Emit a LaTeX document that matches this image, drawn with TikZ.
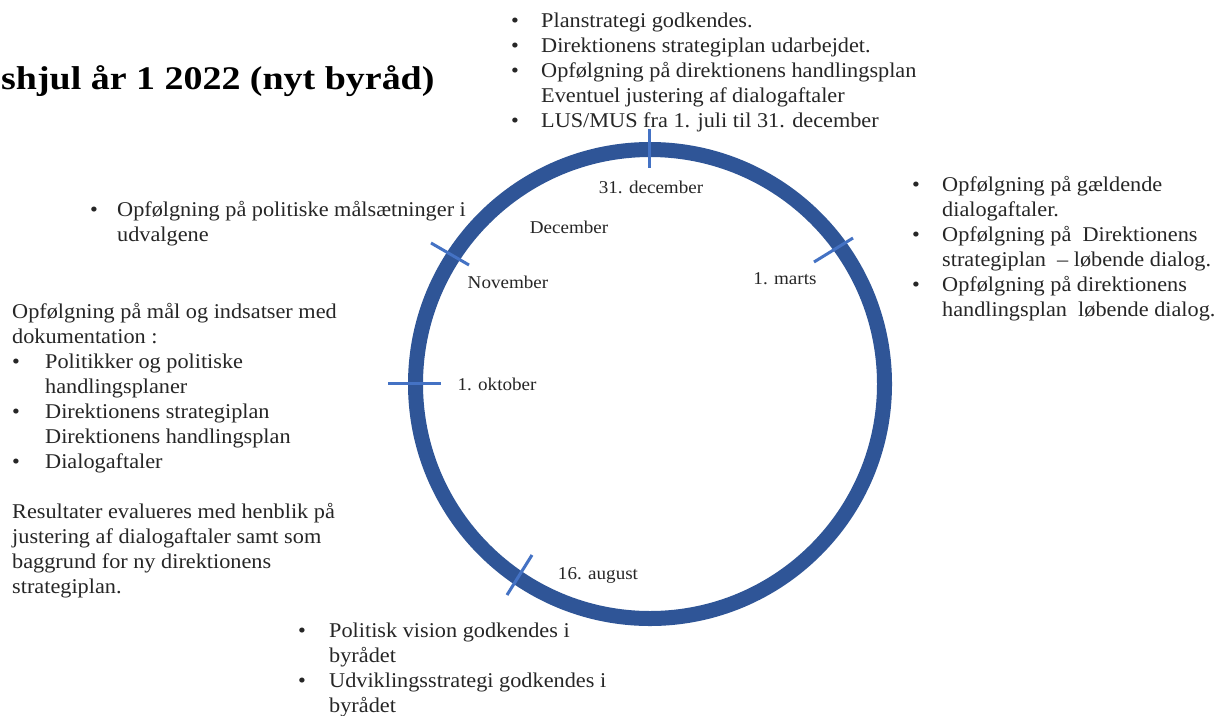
\documentclass[tikz,border=0pt]{standalone}
\usepackage{fontspec}
\setmainfont[FakeStretch=1.06]{Liberation Serif}
\newfontfamily\titlefont[FakeStretch=1.15]{Liberation Serif}
\usepackage{array}
\definecolor{ringblue}{HTML}{2F5597}
\definecolor{tickblue}{HTML}{4472C4}
\tikzset{
  ring/.style={fill=ringblue, even odd rule},
  tickmark/.style={draw=tickblue, line width=3pt},
  lbl/.style={inner sep=0pt, anchor=base, font=\fontsize{18}{21}\selectfont, text=black!85},
  block/.style={inner sep=0pt, anchor=base west, font=\fontsize{21}{25}\selectfont, text=black!85},
  titlestyle/.style={inner sep=0pt, anchor=base west, font=\titlefont\bfseries\fontsize{33}{38}\selectfont, text=black}
}
\newcommand{\bul}{\textbullet}
\begin{document}
\begin{tikzpicture}[x=1pt,y=-1pt]
\useasboundingbox (0,0) rectangle (1214,715);
\fill[white] (0,0) rectangle (1214,715);

% title
\node[titlestyle] (title) at (1,89) {shjul år 1 2022 (nyt byråd)};

% wheel
\coordinate (c) at (650,384);
\path[ring] (c) circle[radius=242pt] (c) circle[radius=227pt];

% tick marks
\draw[tickmark] (649,129) -- (649,168);
\draw[tickmark] (814,262) -- (853,238);
\draw[tickmark] (431,243) -- (469,265);
\draw[tickmark] (388,383) -- (441,383);
\draw[tickmark] (532,555) -- (507,595);

% labels on the wheel
\node[lbl] (l31dec) at (651,193) {31. december};
\node[lbl] (ldec) at (569,233) {December};
\node[lbl] (lnov) at (508,288) {November};
\node[lbl] (lmarts) at (785,284) {1. marts};
\node[lbl] (lokt) at (497,390) {1. oktober};
\node[lbl] (laug) at (598,579) {16. august};

% top block
\node[block] (topblock) at (511,27) {%
\begin{tabular}[t]{@{}p{30pt}@{}l@{}}
\bul & Planstrategi godkendes.\\
\bul & Direktionens strategiplan udarbejdet.\\
\bul & Opfølgning på direktionens handlingsplan\\
     & Eventuel justering af dialogaftaler\\
\bul & LUS/MUS fra 1. juli til 31. december
\end{tabular}};

% right block
\node[block] (rightblock) at (912,191) {%
\begin{tabular}[t]{@{}p{30pt}@{}l@{}}
\bul & Opfølgning på gældende\\
     & dialogaftaler.\\
\bul & Opfølgning på\ \ Direktionens\\
     & strategiplan\ \ – løbende dialog.\\
\bul & Opfølgning på direktionens\\
     & handlingsplan\ \ løbende dialog.
\end{tabular}};

% left top block
\node[block] (lefttop) at (90,216) {%
\begin{tabular}[t]{@{}p{27pt}@{}l@{}}
\bul & Opfølgning på politiske målsætninger i\\
     & udvalgene
\end{tabular}};

% left block
\node[block] (leftblock) at (12,318) {%
\begin{tabular}[t]{@{}p{33pt}@{}l@{}}
\multicolumn{2}{@{}l@{}}{Opfølgning på mål og indsatser med}\\
\multicolumn{2}{@{}l@{}}{dokumentation :}\\
\bul & Politikker og politiske\\
     & handlingsplaner\\
\bul & Direktionens strategiplan\\
     & Direktionens handlingsplan\\
\bul & Dialogaftaler\\
\multicolumn{2}{@{}l@{}}{}\\
\multicolumn{2}{@{}l@{}}{Resultater evalueres med henblik på}\\
\multicolumn{2}{@{}l@{}}{justering af dialogaftaler samt som}\\
\multicolumn{2}{@{}l@{}}{baggrund for ny direktionens}\\
\multicolumn{2}{@{}l@{}}{strategiplan.}
\end{tabular}};

% bottom block
\node[block] (bottomblock) at (298,637) {%
\begin{tabular}[t]{@{}p{31pt}@{}l@{}}
\bul & Politisk vision godkendes i\\
     & byrådet\\
\bul & Udviklingsstrategi godkendes i\\
     & byrådet
\end{tabular}};
\end{tikzpicture}
\end{document}
